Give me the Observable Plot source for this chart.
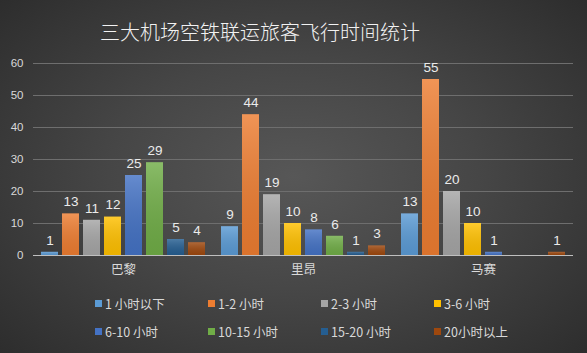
<!DOCTYPE html>
<html><head><meta charset="utf-8">
<script src="https://cdn.jsdelivr.net/npm/d3@7"></script>
<script src="https://cdn.jsdelivr.net/npm/@observablehq/plot@0.6"></script>
<style>
html,body{margin:0;padding:0;}
#wrap{position:relative;width:587px;height:353px;overflow:hidden;
 background:radial-gradient(ellipse 70% 75% at 50% 50%, #575757 0%, #464646 45%, #2c2c2c 100%);
 font-family:"Noto Sans CJK SC","Noto Sans",sans-serif;}
#title{position:absolute;left:0;width:520px;top:17px;text-align:center;color:#f2f2f2;font-size:20px;font-weight:300;}
#chart{position:absolute;left:0;top:0;}
#legend{position:absolute;left:95px;top:294px;width:460px;display:flex;flex-wrap:wrap;row-gap:9px;}
.item{width:113px;display:flex;align-items:center;color:#d9d9d9;font-size:12.5px;height:19px;}
.sw{width:7px;height:7px;margin-right:3px;flex:none;}
</style></head>
<body>
<div id="wrap">
 <div id="title">三大机场空铁联运旅客飞行时间统计</div>
 <div id="chart"></div>
 <div id="legend"></div>
</div>
<script>
const cities = ["巴黎","里昂","马赛"];
const series = ["1 小时以下","1-2 小时","2-3 小时","3-6 小时","6-10 小时","10-15 小时","15-20 小时","20小时以上"];
const colors = ["#5B9BD5","#ED7D31","#A5A5A5","#FFC000","#4472C4","#70AD47","#255E91","#9E480E"];
const paris = [1,13,11,12,25,29,5,4];
const lyon = [9,44,19,10,8,6,1,3];
const marseille = [13,55,20,10,1,null,null,1];
const yTicks = [0,10,20,30,40,50,60];

const values = [paris, lyon, marseille];
const data = [];
cities.forEach((c,i)=>series.forEach((s,j)=>data.push({city:c, series:s, value:values[i][j]})));
const shown = data.filter(d=>d.value!=null);

const chart = Plot.plot({
  width:587, height:353,
  marginTop:63, marginBottom:98, marginLeft:32, marginRight:14,
  style:{background:"transparent", fontFamily:"'Noto Sans CJK SC','Noto Sans',sans-serif"},
  fx:{domain:cities, padding:0},
  x:{domain:series, padding:0.19, paddingOuter:0.38, axis:null},
  y:{domain:[0,60]},
  color:{domain:series, range:colors},
  marks:[
    Plot.gridY(yTicks.slice(1), {stroke:"#6e6e6e", strokeOpacity:1, strokeWidth:1}),
    Plot.barY(shown, {fx:"city", x:"series", y:"value", fill:"series"}),
    Plot.barY(shown, {fx:"city", x:"series", y:"value", fill:"url(#shade)"}),
    Plot.ruleY([0], {stroke:"#bfbfbf", strokeWidth:1.2}),
    Plot.text(shown, {fx:"city", x:"series", y:"value", text:d=>String(d.value), dy:-12, fill:"#ebebeb", fontSize:13.5, fontFamily:"'Liberation Sans',Arial,sans-serif"}),
    Plot.axisY(yTicks, {tickSize:0, tickPadding:10, fill:"#d9d9d9", fontSize:11.5, label:null, fontFamily:"'Liberation Sans',Arial,sans-serif"}),
    Plot.axisFx({anchor:"bottom", tickSize:0, tickPadding:10, fill:"#d9d9d9", fontSize:12.5, label:null})
  ]
});
const ns = "http://www.w3.org/2000/svg";
const defs = document.createElementNS(ns, "defs");
defs.innerHTML = '<linearGradient id="shade" x1="0" y1="0" x2="0" y2="1"><stop offset="0" stop-color="#fff" stop-opacity="0.18"/><stop offset="1" stop-color="#000" stop-opacity="0.08"/></linearGradient>';
chart.insertBefore(defs, chart.firstChild);
document.getElementById("chart").appendChild(chart);

const lg = document.getElementById("legend");
series.forEach((s,i)=>{
  const it = document.createElement("div"); it.className="item";
  const sw = document.createElement("span"); sw.className="sw"; sw.style.background=colors[i];
  const t = document.createElement("span"); t.textContent=s;
  it.appendChild(sw); it.appendChild(t); lg.appendChild(it);
});
</script>
</body></html>
